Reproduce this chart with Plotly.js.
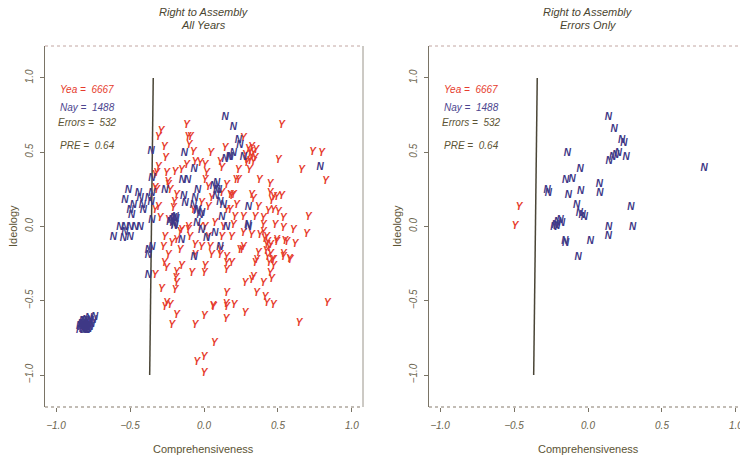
<!DOCTYPE html>
<html>
<head>
<meta charset="utf-8">
<script src="https://cdn.plot.ly/plotly-3.0.1.min.js"></script>
<style>html,body{margin:0;padding:0;background:#fff;overflow:hidden;width:740px;height:461px}#wrap{width:740px;height:461px;overflow:hidden}#chart{width:752px;height:461px}</style>
</head>
<body>
<div id="wrap"><div id="chart"></div></div>
<script>
// ---- Data (Comprehensiveness, Ideology) ----
const yeaX = [-0.117,-0.29,-0.309,-0.11,-0.093,-0.101,-0.268,-0.259,-0.309,-0.072,0.047,-0.151,-0.117,-0.061,0.007,0.108,0.12,-0.32,-0.252,-0.196,-0.331,-0.245,-0.23,0.029,0.007,-0.185,-0.2,-0.207,-0.309,-0.016,-0.072,0.029,0.052,0.12,0.187,0.176,0.153,-0.331,-0.297,-0.241,-0.151,-0.106,-0.095,-0.185,-0.264,-0.218,-0.061,0.029,0.007,0.074,0.131,0.12,-0.016,0.142,
0.525,0.266,0.322,0.311,0.333,0.345,0.288,0.333,0.502,0.734,0.795,0.66,0.822,0.232,0.306,0.216,0.374,0.446,0.322,0.333,0.446,0.468,0.491,0.525,0.457,0.176,0.221,0.367,0.435,0.502,0.705,0.209,0.266,0.345,0.401,0.536,0.198,0.401,0.48,0.536,0.603,0.694,0.401,0.423,0.187,0.266,0.322,0.491,0.547,0.615,0.423,0.266,
0.41,0.43,0.44,0.42,0.45,0.43,0.46,0.44,0.47,0.45,0.30,0.32,0.28,0.35,0.31,
-0.331,-0.241,-0.268,-0.252,-0.151,-0.185,-0.191,-0.185,-0.196,-0.286,-0.083,0.007,0.002,-0.061,0.052,0.108,0.153,0.153,0.063,0.153,0.07,-0.049,0.0,0.0,
-0.264,-0.23,-0.252,0.149,0.153,0.203,0.277,0.149,0.424,0.468,0.642,0.833,0.059,-0.061,-0.218,-0.185,0.002,
0.255,0.187,0.491,0.559,0.367,0.345,0.536,0.577,0.446,0.457,0.333,0.322,0.277,0.401,0.356,0.412,
-0.32,-0.331,-0.241,-0.027,0.018,0.232,0.288,0.153,0.198,0.468,-0.162,-0.106,-0.275,-0.027,0.378,0.041,0.108,-0.162,0.153,0.356,0.468,0.581,0.243,0.536];
const yeaY = [0.68,0.641,0.601,0.601,0.601,0.545,0.53,0.456,0.399,0.5,0.493,0.377,0.41,0.433,0.41,0.433,0.388,0.355,0.355,0.365,0.254,0.298,0.242,0.264,0.31,0.209,0.164,0.119,0.13,0.153,0.108,0.13,0.186,0.22,0.202,0.108,0.108,0.108,0.052,0.04,-0.027,-0.004,-0.072,-0.094,-0.072,-0.117,-0.128,-0.072,-0.004,0.018,-0.004,-0.072,-0.139,0.523,
0.68,0.59,0.534,0.5,0.489,0.456,0.444,0.433,0.444,0.5,0.489,0.377,0.305,0.377,0.377,0.31,0.31,0.283,0.209,0.18,0.22,0.193,0.193,0.202,0.17,0.209,0.141,0.126,0.103,0.096,0.063,0.063,0.058,0.063,0.052,0.052,0.007,0.007,0.007,-0.016,-0.027,-0.054,-0.038,-0.072,-0.072,-0.049,-0.061,-0.094,-0.099,-0.121,-0.128,-0.143,
-0.09,-0.11,-0.15,-0.17,-0.19,-0.21,-0.23,-0.25,-0.27,-0.13,0.52,0.47,0.48,0.51,0.44,
-0.33,-0.195,-0.251,-0.285,-0.269,-0.307,-0.352,-0.386,-0.431,-0.426,-0.314,-0.269,-0.318,-0.195,-0.195,-0.195,-0.251,-0.296,-0.543,-0.453,-0.789,-0.913,-0.88,-0.987,
-0.547,-0.532,-0.52,-0.525,-0.543,-0.532,-0.583,-0.628,-0.52,-0.532,-0.655,-0.52,-0.538,-0.666,-0.666,-0.599,-0.606,
-0.162,-0.251,-0.106,-0.106,-0.184,-0.247,-0.188,-0.224,-0.318,-0.359,-0.341,-0.363,-0.386,-0.386,-0.449,-0.476,
0.242,0.343,0.276,0.422,0.355,0.31,0.422,0.276,0.209,0.108,-0.038,-0.027,-0.139,-0.004,-0.061,-0.139,-0.162,-0.162,-0.207,-0.229,-0.229,-0.229,-0.162,-0.207];

const nayX = [0.142,0.198,-0.358,-0.133,0.198,-0.066,0.142,0.169,-0.353,-0.147,-0.11,-0.264,-0.043,0.063,0.086,-0.137,-0.061,-0.128,-0.072,-0.043,-0.016,0.081,0.108,0.131,0.12,
-0.511,-0.534,-0.444,-0.432,-0.477,-0.5,-0.489,-0.417,-0.41,-0.376,-0.358,-0.568,-0.534,-0.5,-0.466,-0.432,-0.534,-0.5,-0.613,-0.545,-0.353,-0.353,-0.353,
-0.218,-0.196,-0.207,-0.151,-0.016,-0.049,0.074,0.108,-0.23,-0.2,-0.19,
0.232,0.243,0.266,0.784,0.3,0.3,-0.376,-0.376,-0.066,-0.376,
0.176,0.086,0.097,-0.049,-0.027,-0.207,-0.197,0.018,0.153,0.297,
-0.84,-0.83,-0.82,-0.81,-0.80,-0.80,-0.79,-0.78,-0.78,-0.77,-0.82,-0.81,-0.79,-0.83,-0.80,-0.76,-0.77,-0.84,-0.75,-0.74,-0.81,-0.79,-0.82,-0.78];
const nayY = [0.736,0.668,0.507,0.489,0.489,0.382,0.449,0.466,0.321,0.31,0.31,0.242,0.242,0.269,0.242,0.202,0.186,0.153,0.141,0.108,0.085,0.202,0.164,0.141,0.063,
0.242,0.175,0.22,0.186,0.141,0.108,0.074,0.141,0.108,0.186,0.164,-0.004,-0.004,-0.004,-0.004,-0.004,-0.038,-0.072,-0.072,-0.083,0.04,-0.139,0.22,
0.04,0.063,0.018,-0.094,-0.027,0.018,-0.049,-0.139,0.03,0.0,0.05,
0.579,0.545,0.466,0.395,0.13,-0.004,-0.195,-0.33,-0.206,-0.16,
0.466,0.289,0.243,0.1,0.074,0.052,0.007,-0.083,-0.004,0.007,
-0.70,-0.68,-0.66,-0.64,-0.70,-0.67,-0.65,-0.69,-0.66,-0.64,-0.69,-0.67,-0.68,-0.66,-0.63,-0.66,-0.68,-0.67,-0.63,-0.61,-0.70,-0.70,-0.64,-0.62];

// Errors only panel
const errYeaX = [-0.466,-0.493];
const errYeaY = [0.13,0.0];
const errNayX = [0.137,0.176,0.228,0.243,0.205,0.187,0.167,0.142,0.257,-0.14,-0.054,0.784,-0.151,-0.108,0.077,0.081,-0.277,-0.268,-0.133,-0.05,-0.077,-0.059,-0.04,-0.025,0.29,0.302,0.14,0.137,0.016,-0.157,-0.151,-0.066,-0.223,-0.207,-0.189,-0.178,-0.23,-0.211];
const errNayY = [0.736,0.655,0.579,0.556,0.493,0.476,0.462,0.44,0.462,0.489,0.386,0.39,0.307,0.314,0.283,0.224,0.242,0.224,0.209,0.236,0.143,0.09,0.074,0.063,0.13,-0.004,-0.004,-0.065,-0.099,-0.099,-0.112,-0.207,0.007,0.029,0.04,0.018,-0.004,0.0];

// Cutting line
const cutX = [-0.343,-0.367];
const cutY = [1.0,-1.0];

const statLabels = ["Yea =  6667","Nay =  1488","Errors =  532","PRE =  0.64"];
const panelTitles = [["Right to Assembly","All Years"],["Right to Assembly","Errors Only"]];
const tickVals = [-1.0,-0.5,0.0,0.5,1.0];

// ---- Styles ----
const RED = '#e63b2c', NAVY = '#3e3886', OLIVE = '#5c5434', AXC = '#7a7466';
const FONT = 'Liberation Sans, Arial, sans-serif';
const markFont = (c) => ({family: FONT, size: 10, color: c, weight: 'bold', style: 'italic'});

function textTrace(x, y, letter, color, xa, ya) {
  return {x: x, y: y, mode: 'text', type: 'scatter', text: x.map(() => letter),
    textposition: 'middle center', textfont: markFont(color), xaxis: xa, yaxis: ya,
    hoverinfo: 'skip', showlegend: false, cliponaxis: true};
}
function lineTrace(xa, ya) {
  return {x: cutX, y: cutY, mode: 'lines', type: 'scatter', line: {color: '#4a4536', width: 1.5},
    xaxis: xa, yaxis: ya, hoverinfo: 'skip', showlegend: false};
}

const data = [
  lineTrace('x','y'),
  textTrace(yeaX, yeaY, 'Y', RED, 'x', 'y'),
  textTrace(nayX, nayY, 'N', NAVY, 'x', 'y'),
  lineTrace('x2','y2'),
  textTrace(errYeaX, errYeaY, 'Y', RED, 'x2', 'y2'),
  textTrace(errNayX, errNayY, 'N', NAVY, 'x2', 'y2')
];

const W = 752, H = 461;
const yDom = [(H-407)/H, (H-46)/H];
const tickFont = {family: FONT, size: 10, color: '#6a634c', style: 'italic'};

function xAxis(dom, rng, anchor) {
  return {domain: dom, range: rng, anchor: anchor, tickvals: tickVals, tickformat: '.1f',
    ticks: 'outside', ticklen: 4, tickcolor: AXC, tickwidth: 1, showline: false,
    showgrid: false, zeroline: false, tickfont: tickFont, ticklabelstandoff: 5, fixedrange: true};
}
function yAxis(anchor) {
  return {domain: yDom, range: [-1.215, 1.215], anchor: anchor, tickvals: tickVals, tickformat: '.1f',
    ticks: 'outside', ticklen: 4, tickcolor: AXC, tickwidth: 1, showline: true, linecolor: AXC,
    linewidth: 1.2, showgrid: false, zeroline: false, tickangle: -90, tickfont: tickFont,
    ticklabelstandoff: 3, fixedrange: true};
}

const ann = [];
const centers = [204, 588];
const statX = [87, 471];
const statY = [89, 107, 123, 146];
const statCol = [RED, '#4d468f', OLIVE, OLIVE];
for (let p = 0; p < 2; p++) {
  ann.push({xref: 'paper', yref: 'paper', x: centers[p]/W, y: 1 - 12/H, text: panelTitles[p][0],
    showarrow: false, xanchor: 'center', yanchor: 'middle', font: {family: FONT, size: 11, color: '#4a4530', style: 'italic'}});
  ann.push({xref: 'paper', yref: 'paper', x: centers[p]/W, y: 1 - 25/H, text: panelTitles[p][1],
    showarrow: false, xanchor: 'center', yanchor: 'middle', font: {family: FONT, size: 11, color: '#4a4530', style: 'italic'}});
  ann.push({xref: 'paper', yref: 'paper', x: centers[p]/W, y: 1 - 449/H, text: 'Comprehensiveness',
    showarrow: false, xanchor: 'center', yanchor: 'middle', font: {family: FONT, size: 11, color: OLIVE}});
  ann.push({xref: 'paper', yref: 'paper', x: (p === 0 ? 13 : 397)/W, y: 1 - 226/H, text: 'Ideology',
    showarrow: false, textangle: -90, xanchor: 'center', yanchor: 'middle', font: {family: FONT, size: 11, color: OLIVE}});
  for (let i = 0; i < statLabels.length; i++) {
    ann.push({xref: 'paper', yref: 'paper', x: statX[p]/W, y: 1 - statY[i]/H, text: statLabels[i],
      showarrow: false, xanchor: 'center', yanchor: 'middle', font: {family: FONT, size: 10, color: statCol[i], style: 'italic'}});
  }
}

const shapes = [];
[['x','y'],['x2','y2']].forEach(([xa, ya]) => {
  shapes.push({type: 'line', xref: xa + ' domain', yref: ya + ' domain', x0: 0, x1: 1, y0: 1, y1: 1,
    line: {color: '#c2a6a2', width: 1, dash: 'dot'}});
  shapes.push({type: 'line', xref: xa + ' domain', yref: ya + ' domain', x0: 0, x1: 1, y0: 0, y1: 0,
    line: {color: '#857b6c', width: 1.2, dash: 'dot'}});
  shapes.push({type: 'line', xref: xa + ' domain', yref: ya + ' domain', x0: 1, x1: 1, y0: 0, y1: 1,
    line: {color: '#9a948a', width: 1}});
});

const layout = {
  width: W, height: H, margin: {l: 0, r: 0, t: 0, b: 0},
  paper_bgcolor: '#ffffff', plot_bgcolor: '#ffffff', showlegend: false,
  xaxis: xAxis([45/W, 363/W], [-1.0745, 1.0745], 'y'),
  yaxis: yAxis('x'),
  xaxis2: xAxis([429/W, 747/W], [-1.0745, 1.0745], 'y2'),
  yaxis2: yAxis('x2'),
  annotations: ann, shapes: shapes
};

Plotly.newPlot('chart', data, layout, {displayModeBar: false, staticPlot: true});
</script>
</body>
</html>
